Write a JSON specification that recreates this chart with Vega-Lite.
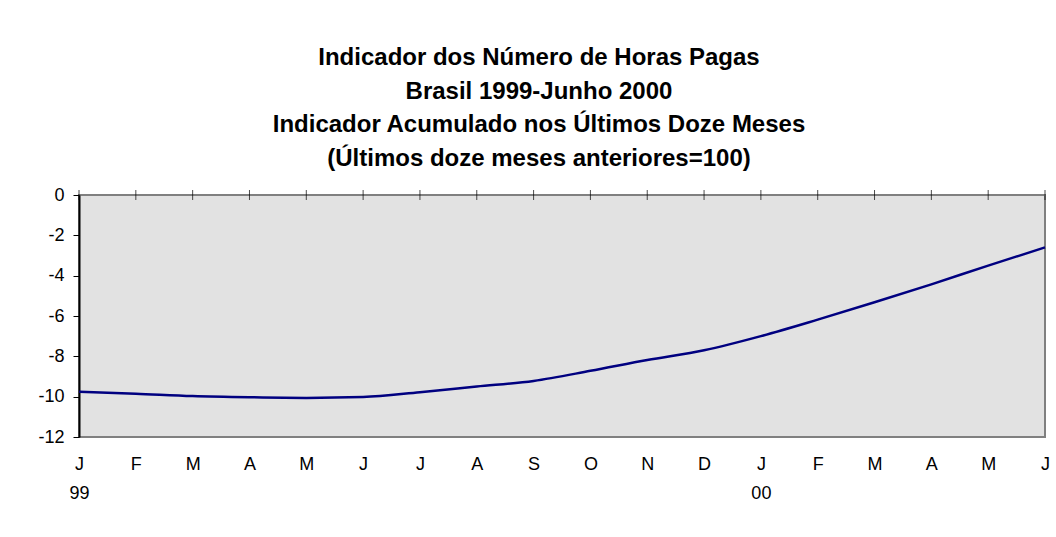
{
  "$schema": "https://vega.github.io/schema/vega-lite/v6.json",
  "autosize": "none",
  "width": 966,
  "height": 242,
  "padding": {"left": 79, "top": 195, "right": 11, "bottom": 100},
  "background": "white",
  "config": {
    "font": "Liberation Sans",
    "view": {"fill": "#E2E2E2", "stroke": "#808080", "strokeWidth": 2}
  },
  "title": {
    "text": ["Indicador dos Número de Horas Pagas", "Brasil 1999-Junho 2000", "Indicador Acumulado nos Últimos Doze Meses", "(Últimos doze meses anteriores=100)"],
    "font": "Liberation Sans",
    "fontSize": 24,
    "fontWeight": "bold",
    "color": "black",
    "lineHeight": 33.7,
    "anchor": "middle",
    "frame": "bounds",
    "offset": 15,
    "dx": -5
  },
  "data": {
    "values": [
      {"mes": "1999-01", "valor": -9.75},
      {"mes": "1999-02", "valor": -9.85},
      {"mes": "1999-03", "valor": -9.97},
      {"mes": "1999-04", "valor": -10.03},
      {"mes": "1999-05", "valor": -10.06},
      {"mes": "1999-06", "valor": -10.02},
      {"mes": "1999-07", "valor": -9.78},
      {"mes": "1999-08", "valor": -9.5},
      {"mes": "1999-09", "valor": -9.22},
      {"mes": "1999-10", "valor": -8.72},
      {"mes": "1999-11", "valor": -8.18},
      {"mes": "1999-12", "valor": -7.7},
      {"mes": "2000-01", "valor": -7.0},
      {"mes": "2000-02", "valor": -6.18},
      {"mes": "2000-03", "valor": -5.32},
      {"mes": "2000-04", "valor": -4.43},
      {"mes": "2000-05", "valor": -3.5},
      {"mes": "2000-06", "valor": -2.6}
    ]
  },
  "encoding": {
    "x": {
      "field": "mes",
      "type": "ordinal",
      "sort": null,
      "scale": {"type": "point", "padding": 0},
      "axis": {
        "title": null,
        "orient": "bottom",
        "domain": false,
        "ticks": false,
        "grid": false,
        "labelAngle": 0,
        "labelFont": "Liberation Sans",
        "labelFontSize": 18,
        "labelColor": "black",
        "labelPadding": 18,
        "labelLineHeight": 29,
        "labelBaseline": "top",
        "labelOverlap": false,
        "labelExpr": "substring(datum.value,5,7)=='01' ? ['J', substring(datum.value,2,4)] : substring('JFMAMJJASOND', toNumber(substring(datum.value,5,7))-1, toNumber(substring(datum.value,5,7)))"
      }
    }
  },
  "layer": [
    {
      "mark": {"type": "rule", "color": "black", "strokeWidth": 2},
      "encoding": {"y": {"datum": 0, "type": "quantitative"}}
    },
    {
      "mark": {"type": "tick", "orient": "vertical", "size": 10, "thickness": 1, "color": "black"},
      "encoding": {"y": {"datum": 0, "type": "quantitative"}}
    },
    {
      "mark": {"type": "line", "color": "#000080", "strokeWidth": 2.5, "interpolate": "monotone"},
      "encoding": {
        "y": {
          "field": "valor",
          "type": "quantitative",
          "scale": {"domain": [-12, 0], "nice": false, "zero": false},
          "axis": {
            "title": null,
            "values": [0, -2, -4, -6, -8, -10, -12],
            "grid": false,
            "domainColor": "black",
            "domainWidth": 2,
            "tickColor": "black",
            "tickSize": 6,
            "labelFont": "Liberation Sans",
            "labelFontSize": 18,
            "labelColor": "black",
            "labelPadding": 9,
            "labelExpr": "'' + datum.value"
          }
        }
      }
    }
  ]
}
